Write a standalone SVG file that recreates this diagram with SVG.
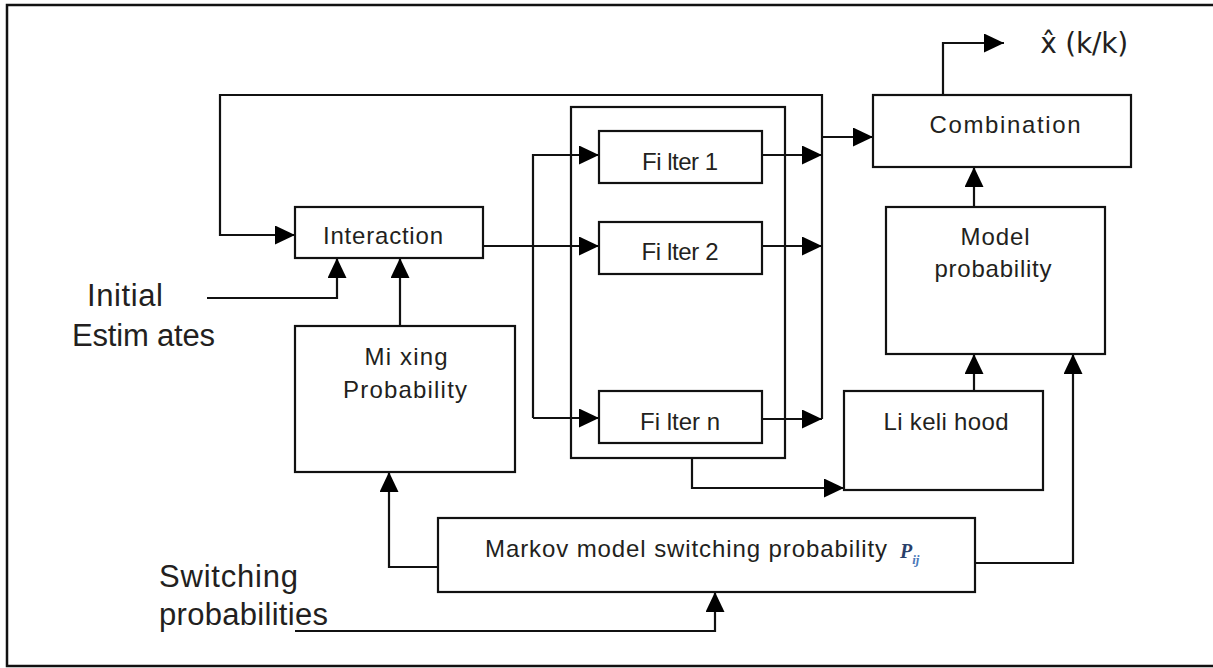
<svg xmlns="http://www.w3.org/2000/svg" width="1213" height="668" viewBox="0 0 1213 668">
<defs>
<marker id="ah" markerUnits="userSpaceOnUse" markerWidth="20" markerHeight="19" refX="20" refY="9.5" orient="auto">
<path d="M0,0 L20,9.5 L0,19 Z" fill="#000"/>
</marker>
<style>
.box{fill:#fff;stroke:#111;stroke-width:2.2}
.ln{fill:none;stroke:#111;stroke-width:2.2}
.arr{fill:none;stroke:#111;stroke-width:2.2;marker-end:url(#ah)}
.t{font-family:"Liberation Sans",Arial,sans-serif;fill:#231f20;text-anchor:middle}
.m{font-size:24px}
.b{font-size:31px;text-anchor:start}
</style>
</defs>
<rect x="0" y="0" width="1213" height="668" fill="#fff"/>
<rect x="7" y="5" width="1215" height="661" fill="none" stroke="#111" stroke-width="2.5"/>

<g id="connectors">
<polyline class="arr" points="822,419 822,95 220,95 220,235 295,235"/>
<polyline class="arr" points="207,298 337,298 337,258"/>
<polyline class="arr" points="400,326 400,258"/>
<polyline class="arr" points="483,246 599,246"/>
<polyline class="ln" points="599,155 533,155 533,418"/>
<polyline class="arr" points="533,155 599,155"/>
<polyline class="arr" points="533,418 599,418"/>
<polyline class="arr" points="762,155 822,155"/>
<polyline class="arr" points="762,246 822,246"/>
<polyline class="arr" points="762,419 822,419"/>
<polyline class="arr" points="822,137 873,137"/>
<polyline class="arr" points="943,95 943,43 1004,43"/>
<polyline class="arr" points="974,207 974,167"/>
<polyline class="arr" points="974,391 974,354"/>
<polyline class="arr" points="692,458 692,488 844,488"/>
<polyline class="arr" points="438,567 389,567 389,472"/>
<polyline class="arr" points="975,563 1073,563 1073,354"/>
<polyline class="arr" points="295,631 715,631 715,592"/>
</g>

<g id="filter-bank"><rect class="box" x="571" y="107" width="214" height="351" fill="none" style="fill:none"/></g>
<g id="interaction"><rect class="box" x="295" y="207" width="188" height="51"/><text class="t m" x="383" y="244" textLength="120" lengthAdjust="spacing">Interaction</text></g>
<g id="filter1"><rect class="box" x="599" y="131" width="163" height="52"/><text class="t m" x="680" y="170" textLength="76" lengthAdjust="spacing">Fi lter 1</text></g>
<g id="filter2"><rect class="box" x="599" y="222" width="163" height="52"/><text class="t m" x="680" y="260" textLength="77" lengthAdjust="spacing">Fi lter 2</text></g>
<g id="filtern"><rect class="box" x="599" y="391" width="163" height="52"/><text class="t m" x="680" y="430" textLength="80" lengthAdjust="spacing">Fi lter n</text></g>
<g id="mixing"><rect class="box" x="295" y="326" width="220" height="146"/><text class="t m" x="406" y="365" textLength="83" lengthAdjust="spacing">Mi xing</text><text class="t m" x="405" y="398" textLength="124" lengthAdjust="spacing">Probability</text></g>
<g id="combination"><rect class="box" x="873" y="95" width="258" height="72"/><text class="t m" x="1005" y="133" textLength="151" lengthAdjust="spacing">Combination</text></g>
<g id="model-probability"><rect class="box" x="886" y="207" width="219" height="147"/><text class="t m" x="995" y="245" textLength="69" lengthAdjust="spacing">Model</text><text class="t m" x="993" y="277" textLength="117" lengthAdjust="spacing">probability</text></g>
<g id="likelihood"><rect class="box" x="844" y="391" width="199" height="99"/><text class="t m" x="946" y="430" textLength="125" lengthAdjust="spacing">Li keli hood</text></g>
<g id="markov"><rect class="box" x="438" y="518" width="537" height="74"/><text class="t m" x="485" y="557" style="text-anchor:start" textLength="402" lengthAdjust="spacing">Markov model switching probability</text><text class="t" x="900" y="558" style="text-anchor:start;font-family:'Liberation Serif',serif;font-style:italic;font-weight:bold;font-size:20px;fill:#2a3f6a">P<tspan dy="6" font-size="13px" fill="#4a78b8">ij</tspan></text></g>
<g id="initial-estimates"><text class="t b" x="87" y="306" textLength="76" lengthAdjust="spacing">Initial</text><text class="t b" x="72" y="346" textLength="143" lengthAdjust="spacing">Estim ates</text></g>
<g id="switching-probabilities"><text class="t b" x="159" y="587" textLength="139" lengthAdjust="spacing">Switching</text><text class="t b" x="159" y="625" textLength="169" lengthAdjust="spacing">probabilities</text></g>
<g id="output"><text class="t" x="1040" y="53" style="text-anchor:start;font-size:28px;font-family:'DejaVu Sans','Liberation Sans',sans-serif" textLength="88" lengthAdjust="spacing">x̂ (k/k)</text></g>
</svg>
